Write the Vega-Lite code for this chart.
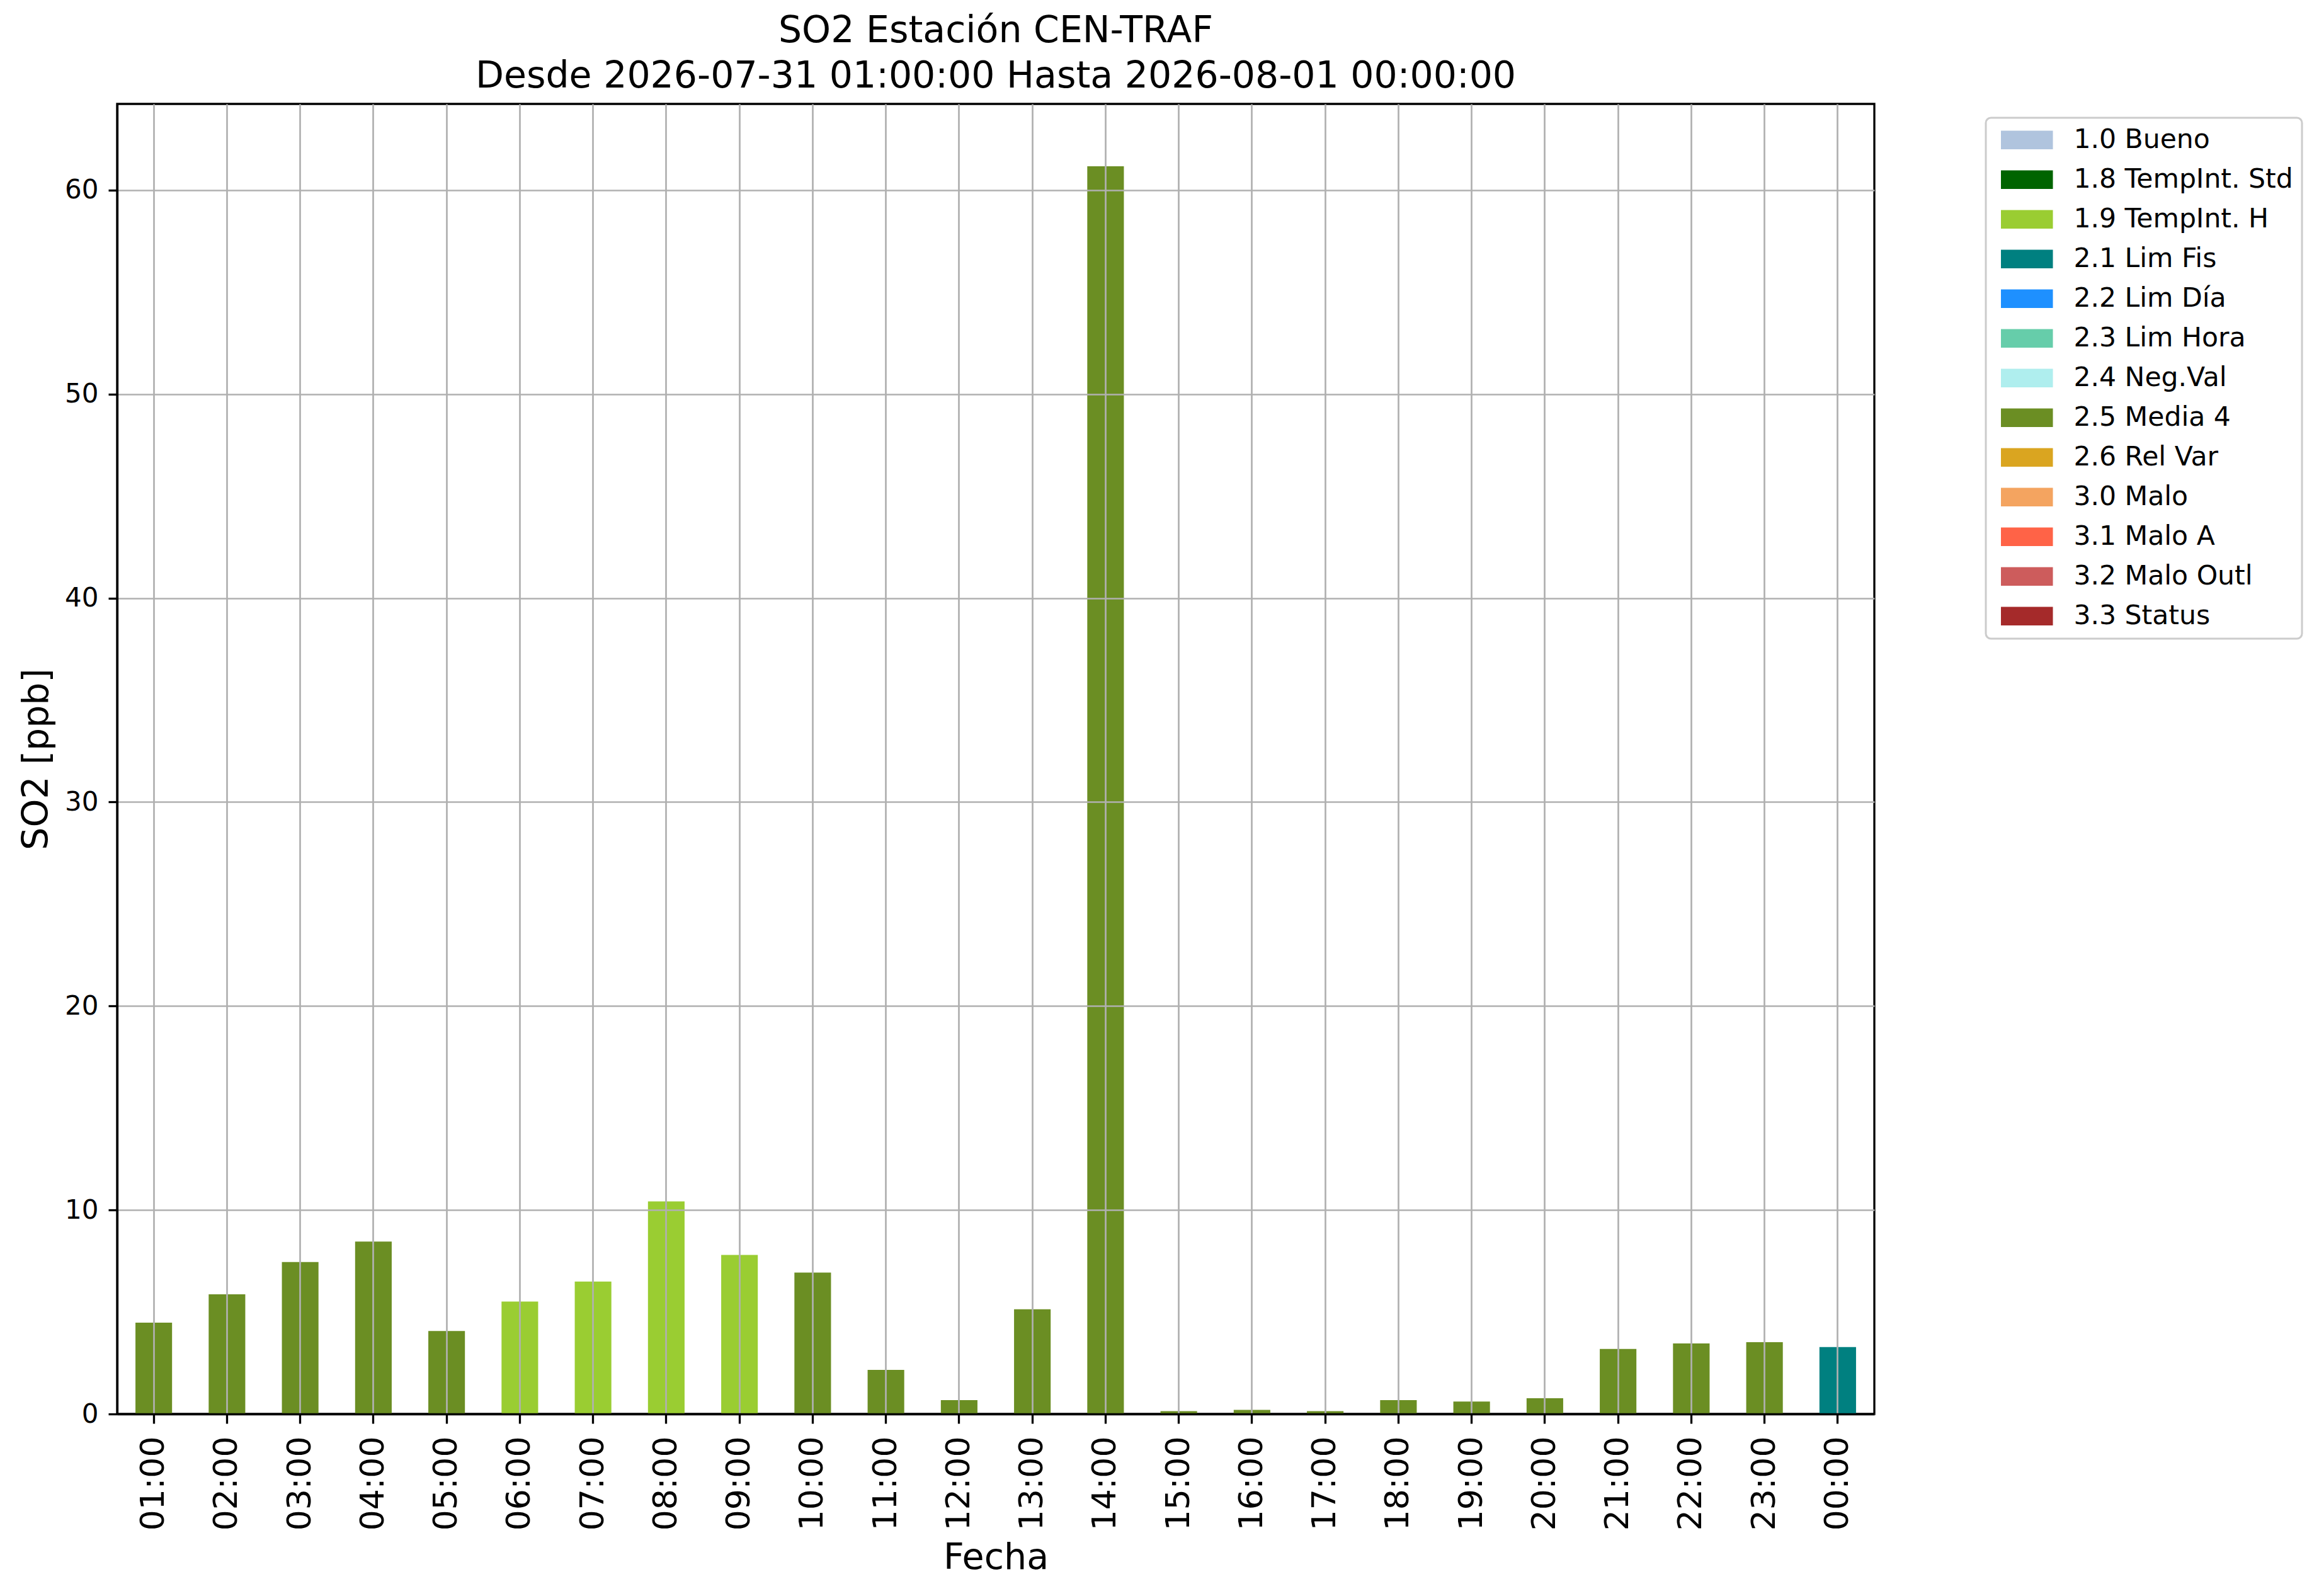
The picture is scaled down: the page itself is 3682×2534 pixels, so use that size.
{
  "$schema": "https://vega.github.io/schema/vega-lite/v6.json",
  "autosize": {"type": "none"},
  "padding": {"left": 186, "top": 165, "right": 706, "bottom": 289},
  "width": 2790,
  "height": 2080,
  "background": "white",
  "config": {
    "font": "DejaVu Sans",
    "view": {"stroke": "black", "strokeWidth": 3.3},
    "legend": {"strokeWidth": 3}
  },
  "title": {
    "text": ["SO2 Estación CEN-TRAF", "Desde 2026-07-31 01:00:00 Hasta 2026-08-01 00:00:00"],
    "font": "DejaVu Sans",
    "fontSize": 58.5,
    "fontWeight": "normal",
    "lineHeight": 72,
    "anchor": "middle",
    "baseline": "bottom",
    "offset": 11,
    "dy": 55,
    "color": "black"
  },
  "data": {
    "values": [
      {"hora": "01:00", "valor": 4.48, "flag": "2.5 Media 4"},
      {"hora": "02:00", "valor": 5.87, "flag": "2.5 Media 4"},
      {"hora": "03:00", "valor": 7.45, "flag": "2.5 Media 4"},
      {"hora": "04:00", "valor": 8.45, "flag": "2.5 Media 4"},
      {"hora": "05:00", "valor": 4.07, "flag": "2.5 Media 4"},
      {"hora": "06:00", "valor": 5.51, "flag": "1.9 TempInt. H"},
      {"hora": "07:00", "valor": 6.49, "flag": "1.9 TempInt. H"},
      {"hora": "08:00", "valor": 10.42, "flag": "1.9 TempInt. H"},
      {"hora": "09:00", "valor": 7.8, "flag": "1.9 TempInt. H"},
      {"hora": "10:00", "valor": 6.93, "flag": "2.5 Media 4"},
      {"hora": "11:00", "valor": 2.16, "flag": "2.5 Media 4"},
      {"hora": "12:00", "valor": 0.68, "flag": "2.5 Media 4"},
      {"hora": "13:00", "valor": 5.13, "flag": "2.5 Media 4"},
      {"hora": "14:00", "valor": 61.17, "flag": "2.5 Media 4"},
      {"hora": "15:00", "valor": 0.14, "flag": "2.5 Media 4"},
      {"hora": "16:00", "valor": 0.2, "flag": "2.5 Media 4"},
      {"hora": "17:00", "valor": 0.14, "flag": "2.5 Media 4"},
      {"hora": "18:00", "valor": 0.68, "flag": "2.5 Media 4"},
      {"hora": "19:00", "valor": 0.61, "flag": "2.5 Media 4"},
      {"hora": "20:00", "valor": 0.77, "flag": "2.5 Media 4"},
      {"hora": "21:00", "valor": 3.19, "flag": "2.5 Media 4"},
      {"hora": "22:00", "valor": 3.46, "flag": "2.5 Media 4"},
      {"hora": "23:00", "valor": 3.52, "flag": "2.5 Media 4"},
      {"hora": "00:00", "valor": 3.28, "flag": "2.1 Lim Fis"}
    ]
  },
  "mark": {"type": "bar"},
  "encoding": {
    "x": {
      "field": "hora",
      "type": "ordinal",
      "sort": null,
      "scale": {"paddingInner": 0.5, "paddingOuter": 0.25},
      "axis": {
        "title": "Fecha",
        "titleFontSize": 57,
        "titleFontWeight": "normal",
        "titleColor": "black",
        "titleX": 1395,
        "titleY": 245,
        "titleBaseline": "alphabetic",
        "labelAngle": 270,
        "labelFontSize": 52,
        "labelColor": "black",
        "labelPadding": 20,
        "bandPosition": 0.5,
        "tickSize": 15,
        "tickWidth": 3.3,
        "tickColor": "black",
        "domainColor": "black",
        "domainWidth": 3.3,
        "grid": true,
        "gridColor": "#b0b0b0",
        "gridWidth": 2.7,
        "zindex": 1
      }
    },
    "y": {
      "field": "valor",
      "type": "quantitative",
      "scale": {"domain": [0, 64.23], "nice": false},
      "axis": {
        "title": "SO2 [ppb]",
        "titleFontSize": 57,
        "titleFontWeight": "normal",
        "titleColor": "black",
        "titleX": -111,
        "titleY": 1040,
        "titleBaseline": "alphabetic",
        "values": [0, 10, 20, 30, 40, 50, 60],
        "labelFontSize": 42,
        "labelColor": "black",
        "labelPadding": 16,
        "tickSize": 14,
        "tickWidth": 3.3,
        "tickColor": "black",
        "domainColor": "black",
        "domainWidth": 3.3,
        "grid": true,
        "gridColor": "#b0b0b0",
        "gridWidth": 2.7,
        "zindex": 1
      }
    },
    "color": {
      "field": "flag",
      "type": "nominal",
      "scale": {
        "domain": ["1.0 Bueno", "1.8 TempInt. Std", "1.9 TempInt. H", "2.1 Lim Fis", "2.2 Lim Día", "2.3 Lim Hora", "2.4 Neg.Val", "2.5 Media 4", "2.6 Rel Var", "3.0 Malo", "3.1 Malo A", "3.2 Malo Outl", "3.3 Status"],
        "range": ["#b0c4de", "#006400", "#9acd32", "#008080", "#1e90ff", "#66cdaa", "#afeeee", "#6b8e23", "#daa520", "#f4a460", "#ff6347", "#cd5c5c", "#a52a2a"]
      },
      "legend": {
        "title": null,
        "orient": "none",
        "legendX": 2967,
        "legendY": 22,
        "symbolType": "M-2.5,-0.9H2.5V0.9H-2.5Z",
        "symbolSize": 1089,
        "symbolStrokeWidth": 0,
        "symbolOpacity": 1,
        "symbolOffset": 30,
        "labelFontSize": 42.5,
        "labelColor": "black",
        "labelOffset": 53,
        "labelLimit": 600,
        "rowPadding": 20,
        "padding": 14,
        "strokeColor": "#cccccc",
        "cornerRadius": 8,
        "fillColor": "white"
      }
    }
  }
}
